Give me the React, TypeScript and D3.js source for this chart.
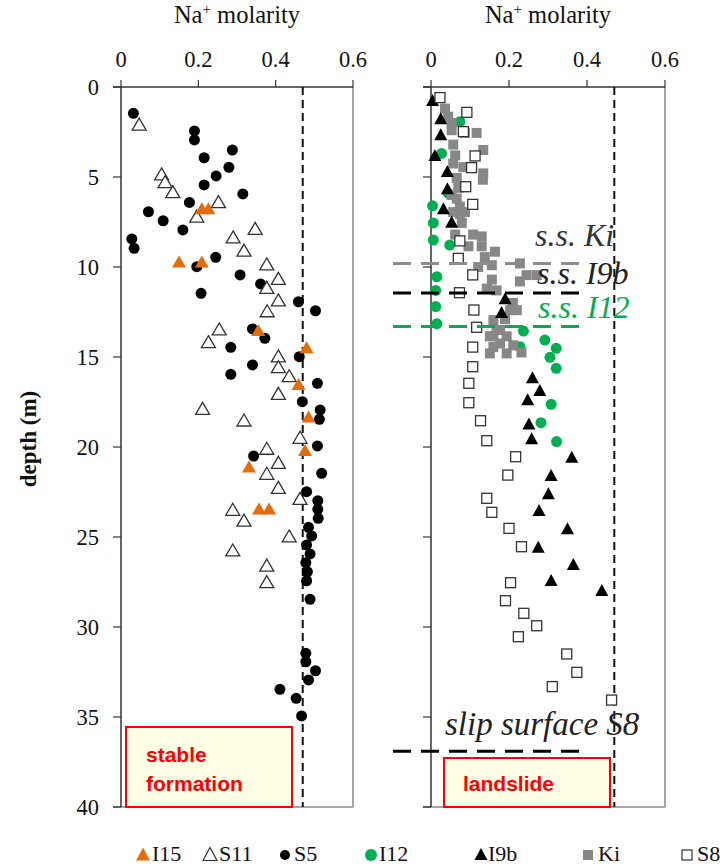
import React from "react";
import * as d3 from "d3";

// Na+ molarity (x) against depth in metres (y), one array per borehole series.
// Left panel: stable formation
const I15: [number, number][] = [
  [0.209, 6.74], [0.226, 6.74], [0.15, 9.7], [0.209, 9.7], [0.355, 13.5], [0.48, 14.46],
  [0.459, 16.5], [0.485, 18.3], [0.476, 20.17], [0.331, 21.09], [0.357, 23.41], [0.383, 23.41],
];
const S11: [number, number][] = [
  [0.047, 2.06], [0.105, 4.83], [0.114, 5.26], [0.134, 5.81], [0.252, 6.37], [0.196, 7.17],
  [0.347, 7.85], [0.29, 8.33], [0.318, 9.06], [0.377, 9.83], [0.407, 10.63], [0.377, 11.13],
  [0.407, 11.83], [0.378, 12.43], [0.254, 13.44], [0.226, 14.15], [0.407, 14.94], [0.407, 15.54],
  [0.435, 16.04], [0.407, 17.02], [0.211, 17.85], [0.318, 18.5], [0.463, 19.46], [0.377, 20.07],
  [0.407, 20.85], [0.377, 21.46], [0.407, 22.24], [0.463, 22.85], [0.289, 23.46], [0.318, 24.06],
  [0.435, 24.94], [0.289, 25.72], [0.377, 26.56], [0.377, 27.48],
];
const S5: [number, number][] = [
  [0.032, 1.46], [0.19, 2.44], [0.19, 2.94], [0.288, 3.5], [0.215, 3.93], [0.279, 4.46],
  [0.246, 4.94], [0.215, 5.44], [0.315, 5.94], [0.177, 6.41], [0.071, 6.93], [0.109, 7.43],
  [0.16, 7.94], [0.028, 8.44], [0.034, 8.96], [0.245, 9.46], [0.196, 9.98], [0.308, 10.44],
  [0.361, 10.94], [0.207, 11.46], [0.459, 11.93], [0.503, 12.43], [0.34, 13.44], [0.372, 13.96],
  [0.284, 14.46], [0.461, 14.98], [0.34, 15.44], [0.284, 15.96], [0.508, 16.46], [0.469, 17.48],
  [0.515, 17.94], [0.513, 18.46], [0.508, 19.94], [0.343, 20.5], [0.519, 21.46], [0.48, 22.48],
  [0.509, 22.98], [0.509, 23.46], [0.51, 23.96], [0.485, 24.46], [0.493, 24.94], [0.48, 25.44],
  [0.489, 25.94], [0.478, 26.43], [0.482, 26.93], [0.48, 27.43], [0.489, 28.46], [0.478, 31.46],
  [0.478, 31.93], [0.503, 32.43], [0.485, 32.94], [0.411, 33.46], [0.453, 33.96], [0.467, 34.94],
];

// Right panel: landslide
const I12: [number, number][] = [
  [0.074, 1.93], [0.027, 3.69], [0.044, 5.9], [0.004, 6.6], [0.006, 7.55], [0.006, 8.5],
  [0.048, 8.78], [0.015, 10.54], [0.012, 11.3], [0.012, 12.2], [0.015, 13.15], [0.237, 13.56],
  [0.292, 14.06], [0.321, 14.52], [0.228, 14.43], [0.305, 15.02], [0.321, 15.63], [0.308, 17.63],
  [0.282, 18.65], [0.322, 19.7],
];
const I9b: [number, number][] = [
  [0.004, 0.72], [0.025, 1.74], [0.025, 2.63], [0.01, 3.78], [0.042, 4.67], [0.042, 5.63],
  [0.032, 6.74], [0.053, 7.48], [0.19, 11.74], [0.181, 12.5], [0.26, 16.13], [0.279, 16.83],
  [0.248, 17.35], [0.251, 18.69], [0.258, 19.52], [0.361, 20.54], [0.308, 21.56], [0.301, 22.57],
  [0.277, 23.5], [0.35, 24.52], [0.275, 25.54], [0.365, 26.5], [0.308, 27.39], [0.438, 27.94],
];
const Ki: [number, number][] = [
  [0.036, 1.2], [0.044, 1.65], [0.053, 2.0], [0.053, 2.4], [0.087, 2.55], [0.117, 2.55],
  [0.057, 3.2], [0.134, 3.5], [0.062, 3.8], [0.057, 4.25], [0.083, 4.45], [0.134, 4.8],
  [0.133, 5.15], [0.066, 5.05], [0.07, 5.6], [0.066, 6.2], [0.053, 6.0], [0.074, 6.65],
  [0.057, 6.95], [0.087, 6.95], [0.074, 7.05], [0.079, 7.55], [0.062, 8.2], [0.108, 8.2],
  [0.13, 8.3], [0.13, 8.85], [0.096, 8.85], [0.164, 9.15], [0.138, 9.45], [0.156, 9.9],
  [0.121, 10.0], [0.228, 9.8], [0.245, 10.45], [0.271, 10.45], [0.156, 10.7], [0.228, 10.8],
  [0.168, 11.3], [0.143, 11.2], [0.21, 12.0], [0.203, 12.4], [0.22, 12.4], [0.19, 12.9],
  [0.16, 12.95], [0.168, 13.5], [0.177, 13.5], [0.16, 13.85], [0.151, 13.85], [0.194, 13.85],
  [0.177, 14.25], [0.16, 14.45], [0.211, 14.35], [0.151, 14.8], [0.194, 14.8], [0.232, 14.75],
];
const S8: [number, number][] = [
  [0.023, 0.59], [0.092, 1.41], [0.083, 2.48], [0.113, 3.83], [0.104, 4.48], [0.089, 5.54],
  [0.107, 6.52], [0.074, 8.55], [0.07, 9.52], [0.107, 10.44], [0.073, 11.43], [0.11, 12.39],
  [0.117, 13.35], [0.107, 14.45], [0.107, 15.54], [0.097, 16.46], [0.097, 17.54], [0.127, 18.54],
  [0.143, 19.65], [0.217, 20.54], [0.197, 21.56], [0.143, 22.85], [0.156, 23.63], [0.2, 24.52],
  [0.232, 25.54], [0.204, 27.54], [0.191, 28.54], [0.238, 29.24], [0.271, 29.93], [0.224, 30.54],
  [0.348, 31.5], [0.374, 32.52], [0.311, 33.31], [0.463, 34.06],
];

const xTicks = [0, 0.2, 0.4, 0.6];
const depthTicks = [0, 5, 10, 15, 20, 25, 30, 35, 40];
const seawaterNa = 0.47;

// slip surfaces in the landslide borehole set: [label, depth, colour]
const slipSurfaces: { label: string; depth: number; color: string }[] = [
  { label: "s.s. Ki", depth: 9.8, color: "#8c8c8c" },
  { label: "s.s. I9b", depth: 11.45, color: "#000000" },
  { label: "s.s. I12", depth: 13.3, color: "#00b050" },
  { label: "slip surface S8", depth: 36.9, color: "#000000" },
];

const ORANGE = "#e46c0a";
const GREEN = "#00b050";
const GREY = "#878787";
const SERIF = "'Liberation Serif', 'Times New Roman', serif";
const SANS = "'Liberation Sans', Arial, sans-serif";

const y = d3.scaleLinear().domain([0, 40]).range([87, 807]);
const xL = d3.scaleLinear().domain([0, 0.6]).range([121, 353]);
const xR = d3.scaleLinear().domain([0, 0.6]).range([431, 665]);

const tri = (cx: number, cy: number, w = 14, h = 12) =>
  `M${cx},${cy - h / 2}L${cx + w / 2},${cy + h / 2}L${cx - w / 2},${cy + h / 2}Z`;

function Panel({ x, showLabels }: { x: d3.ScaleLinear<number, number>; showLabels: boolean }) {
  const [x0, x1] = x.range();
  return (
    <g>
      {/* frame */}
      <line x1={x1} x2={x1} y1={y(0)} y2={y(40)} stroke="#8a8a8a" strokeWidth={1.5} />
      <line x1={x0 - 8} x2={x1} y1={y(40)} y2={y(40)} stroke="#8a8a8a" strokeWidth={1.5} />
      <line x1={x0 - 8} x2={x1} y1={y(0)} y2={y(0)} stroke="#333" strokeWidth={1.5} />
      <line x1={x0} x2={x0} y1={y(0)} y2={y(40)} stroke="#333" strokeWidth={1.5} />
      {xTicks.map((t) => (
        <g key={t}>
          <line x1={x(t)} x2={x(t)} y1={y(0) - 7} y2={y(0)} stroke="#333" strokeWidth={1.2} />
          <text x={x(t)} y={67} textAnchor="middle" fontFamily={SERIF} fontSize={22.5} fill="#111">
            {d3.format(".1~f")(t)}
          </text>
        </g>
      ))}
      {depthTicks.map((t) => (
        <g key={t}>
          <line x1={x0 - 8} x2={x0} y1={y(t)} y2={y(t)} stroke="#333" strokeWidth={1.2} />
          {showLabels && (
            <text x={99} y={y(t)} dy="0.35em" textAnchor="end" fontFamily={SERIF} fontSize={22.5} fill="#111">
              {t}
            </text>
          )}
        </g>
      ))}
      <text x={(x0 + x1) / 2} y={23} textAnchor="middle" fontFamily={SERIF} fontSize={24.5} fill="#111">
        Na<tspan dy={-9} fontSize={15}>+</tspan>
        <tspan dy={9}> molarity</tspan>
      </text>
      <line
        x1={x(seawaterNa)}
        x2={x(seawaterNa)}
        y1={y(0)}
        y2={y(40)}
        stroke="#111"
        strokeWidth={2}
        strokeDasharray="8,5"
      />
    </g>
  );
}

export default function App() {
  return (
    <svg
      width={723}
      height={867}
      style={{ position: "absolute", left: 0, top: 0, background: "#fff" }}
    >
      <rect width={723} height={867} fill="#fff" />
      <Panel x={xL} showLabels={true} />
      <Panel x={xR} showLabels={false} />

      <text
        transform={`translate(28,${439}) rotate(-90)`}
        textAnchor="middle"
        dy="0.35em"
        fontFamily={SERIF}
        fontWeight="bold"
        fontSize={23}
        fill="#111"
      >
        depth (m)
      </text>

      {/* stable formation */}
      {S5.map(([v, d], i) => (
        <circle key={`s5${i}`} cx={xL(v)} cy={y(d)} r={5.5} fill="#000" />
      ))}
      {S11.map(([v, d], i) => (
        <path key={`s11${i}`} d={tri(xL(v), y(d))} fill="#fff" stroke="#333" strokeWidth={1.3} />
      ))}
      {I15.map(([v, d], i) => (
        <path key={`i15${i}`} d={tri(xL(v), y(d))} fill={ORANGE} />
      ))}

      {/* landslide */}
      {I12.map(([v, d], i) => (
        <circle key={`i12${i}`} cx={xR(v)} cy={y(d)} r={5.5} fill={GREEN} />
      ))}
      {Ki.map(([v, d], i) => (
        <rect key={`ki${i}`} x={xR(v) - 5} y={y(d) - 5} width={10} height={10} fill={GREY} />
      ))}
      {I9b.map(([v, d], i) => (
        <path key={`i9b${i}`} d={tri(xR(v), y(d), 13, 12)} fill="#000" />
      ))}
      {S8.map(([v, d], i) => (
        <rect
          key={`s8${i}`}
          x={xR(v) - 5}
          y={y(d) - 5}
          width={10}
          height={10}
          fill="#fff"
          stroke="#333"
          strokeWidth={1.3}
        />
      ))}

      {/* slip surfaces */}
      {slipSurfaces.map((s, i) => (
        <line
          key={`ss${i}`}
          x1={393}
          x2={585}
          y1={y(s.depth)}
          y2={y(s.depth)}
          stroke={s.color}
          strokeWidth={3}
          strokeDasharray="18,10"
        />
      ))}
      <text x={535} y={246} fontFamily={SERIF} fontStyle="italic" fontSize={32} fill="#333">
        s.s. Ki
      </text>
      <text x={537} y={284} fontFamily={SERIF} fontStyle="italic" fontSize={32} fill="#222">
        s.s. I9b
      </text>
      <text x={538} y={318} fontFamily={SERIF} fontStyle="italic" fontSize={32} fill={GREEN}>
        s.s. I12
      </text>
      <text x={445} y={735} fontFamily={SERIF} fontStyle="italic" fontSize={33} fill="#222">
        slip surface S8
      </text>

      {/* zone labels */}
      <rect x={126} y={727} width={166} height={80} fill="#ffffe5" stroke="#ff0000" strokeWidth={2} />
      <text x={146} y={762} fontFamily={SANS} fontWeight="bold" fontSize={21} fill="#ff0000">
        stable
      </text>
      <text x={146} y={791} fontFamily={SANS} fontWeight="bold" fontSize={21} fill="#ff0000">
        formation
      </text>
      <rect x={444} y={758} width={166} height={49} fill="#ffffe5" stroke="#ff0000" strokeWidth={2} />
      <text x={463} y={791} fontFamily={SANS} fontWeight="bold" fontSize={21} fill="#ff0000">
        landslide
      </text>

      {/* legend */}
      <g fontFamily={SERIF} fontSize={22} fill="#111">
        <path d={tri(143, 854, 14, 13)} fill={ORANGE} />
        <text x={152} y={861}>I15</text>
        <path d={tri(210, 854, 14, 13)} fill="none" stroke="#333" strokeWidth={1.2} />
        <text x={219} y={861}>S11</text>
        <circle cx={285} cy={855} r={5} fill="#000" />
        <text x={294} y={861}>S5</text>
        <circle cx={371} cy={855} r={6} fill={GREEN} />
        <text x={379} y={861}>I12</text>
        <path d={tri(481, 854, 13, 12)} fill="#000" />
        <text x={488} y={861}>I9b</text>
        <rect x={583} y={850} width={10} height={10} fill={GREY} />
        <text x={598} y={861}>Ki</text>
        <rect x={682} y={850} width={10} height={10} fill="#fff" stroke="#333" strokeWidth={1.2} />
        <text x={697} y={861}>S8</text>
      </g>
    </svg>
  );
}
